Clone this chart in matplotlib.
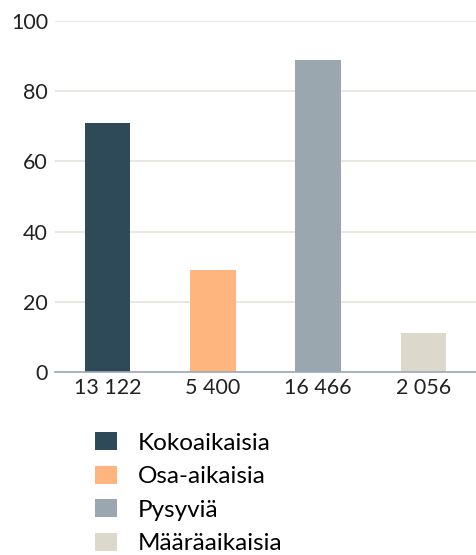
import matplotlib
matplotlib.use("Agg")
import matplotlib.pyplot as plt
from matplotlib.patches import Patch

categories = ["13 122", "5 400", "16 466", "2 056"]
values = [71, 29, 89, 11]
series_names = ["Kokoaikaisia", "Osa-aikaisia", "Pysyviä", "Määräaikaisia"]
colors = ["#2e4a58", "#ffb57d", "#9ba7ae", "#dcd8cc"]
yticks = [0, 20, 40, 60, 80, 100]

plt.rcParams['font.family'] = ['Lato', 'DejaVu Sans']

fig = plt.figure(figsize=(4.77, 5.55), dpi=100)
ax = fig.add_axes([55/477, 1-372/555, (476-55)/477, (372-21)/555])

x = list(range(len(categories)))
ax.bar(x, values, width=0.43, color=colors, zorder=3)
ax.set_xlim(-0.5, 3.5)
ax.set_ylim(0, 100)
ax.set_yticks(yticks)
ax.set_xticks(x)
ax.set_xticklabels(categories)
ax.grid(axis='y', color='#e6e3da', linewidth=1.2, zorder=0)
ax.grid(axis='x', visible=False)
for s in ['top', 'right', 'left']:
    ax.spines[s].set_visible(False)
ax.spines['bottom'].set_color('#9aa8b8')
ax.spines['bottom'].set_linewidth(1.2)
ax.spines['bottom'].set_zorder(4)
ax.tick_params(axis='both', length=0, labelsize=15.5, colors='#222222')
ax.tick_params(axis='y', pad=5)
ax.tick_params(axis='x', pad=4)

handles = [Patch(facecolor=c, edgecolor='none') for c in colors]
fig.legend(handles, series_names, loc='upper left',
           bbox_to_anchor=(95/477, 1-432/555), frameon=False,
           fontsize=17.5, handlelength=0.9, handleheight=0.78,
           handletextpad=0.85, labelspacing=0.49,
           borderpad=0, borderaxespad=0)

fig.savefig("out.png", dpi=100, facecolor='white')
